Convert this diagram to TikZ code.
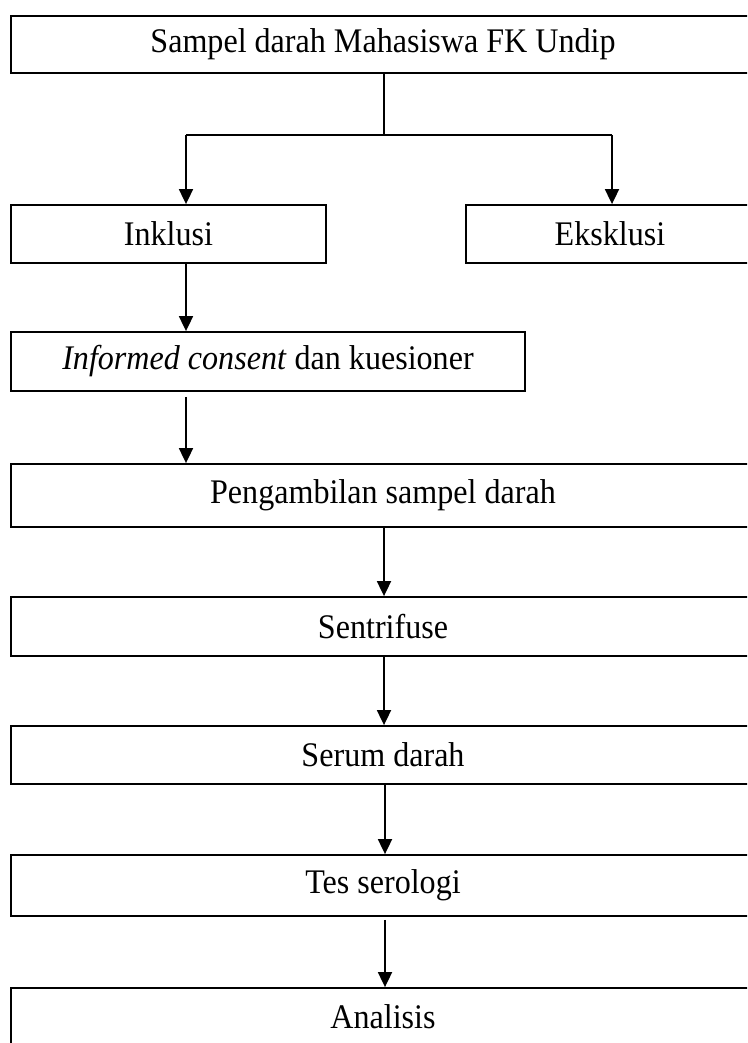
\documentclass[tikz,border=0pt]{standalone}
\usepackage{fontspec}
\setmainfont[FakeStretch=0.93]{Liberation Serif}
\usetikzlibrary{arrows.meta}
\begin{document}
\begin{tikzpicture}[x=1pt,y=-1pt,
  box/.style={draw, line width=1.8pt, inner sep=0pt, minimum width=#1, font=\fontsize{34.5}{40}\selectfont},
  conn/.style={line width=1.8pt},
  arr/.style={line width=1.8pt, -{Triangle[length=15pt,width=14pt]}}]
\useasboundingbox (0,0) rectangle (747,1043);
\clip (0,0) rectangle (747,1043);
\node[box=744pt, minimum height=57pt] (top) at (383,44.5) {Sampel darah Mahasiswa FK Undip};
\node[box=315pt, minimum height=58pt] (inkl) at (168.5,234) {Inklusi};
\node[box=288pt, minimum height=58pt] (eks) at (610,234) {Eksklusi};
\node[box=514pt, minimum height=59pt] (inf) at (268,361.5) {\textit{Informed consent} dan kuesioner};
\node[box=744pt, minimum height=63pt] (peng) at (383,495.5) {Pengambilan sampel darah};
\node[box=744pt, minimum height=59pt] (sent) at (383,626.5) {Sentrifuse};
\node[box=744pt, minimum height=58pt] (serum) at (383,755) {Serum darah};
\node[box=744pt, minimum height=61pt] (tes) at (383,885.5) {Tes serologi};
\node[box=744pt, minimum height=58pt] (anal) at (383,1017) {Analisis};
\coordinate (j) at (384,135);
\coordinate (jl) at (186,135);
\coordinate (jr) at (612,135);
\coordinate (c) at (385,0);
\draw[conn] (top.south -| j) -- (j);
\draw[conn] (jl) -- (jr);
\draw[arr] (jl) -- (inkl.north -| jl);
\draw[arr] (jr) -- (eks.north -| jr);
\draw[arr] (inkl.south -| jl) -- (inf.north -| jl);
\draw[arr, shorten <=5pt] (inf.south -| jl) -- (peng.north -| jl);
\draw[arr] (peng.south -| j) -- (sent.north -| j);
\draw[arr] (sent.south -| j) -- (serum.north -| j);
\draw[arr] (serum.south -| c) -- (tes.north -| c);
\draw[arr, shorten <=3pt] (tes.south -| c) -- (anal.north -| c);
\end{tikzpicture}
\end{document}
